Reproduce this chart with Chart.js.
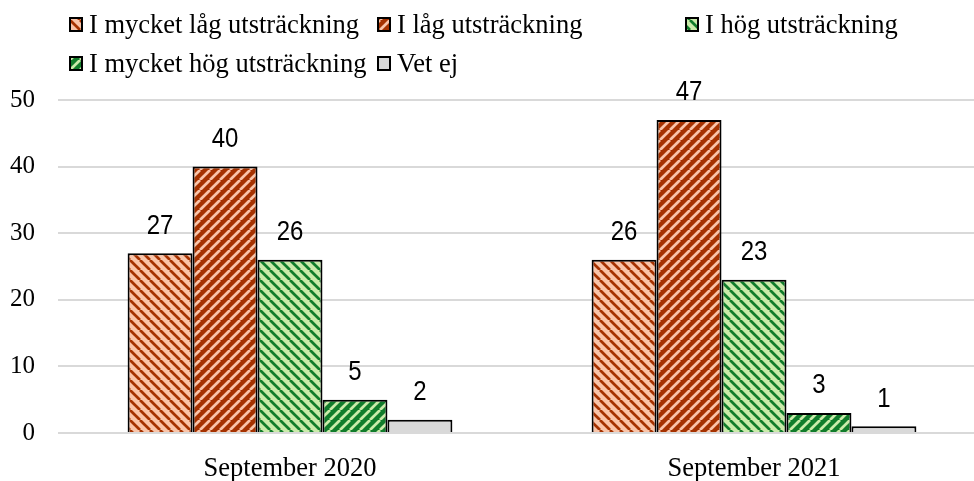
<!DOCTYPE html>
<html>
<head>
<meta charset="utf-8">
<script src="https://cdn.jsdelivr.net/npm/chart.js@4/dist/chart.umd.min.js"></script>
<style>
  html, body { margin: 0; padding: 0; background: #fff; overflow: hidden; }
  #wrap { width: 986px; height: 481px; position: relative; }
</style>
</head>
<body>
<div id="wrap"><canvas id="chart"></canvas></div>
<script>
// Data
const categories = ['September 2020', 'September 2021'];
const seriesNames = ['I mycket låg utsträckning', 'I låg utsträckning', 'I hög utsträckning', 'I mycket hög utsträckning', 'Vet ej'];
const veryLow = [27, 26];
const low = [40, 47];
const high = [26, 23];
const veryHigh = [5, 3];
const dontKnow = [2, 1];
const yTicks = [0, 10, 20, 30, 40, 50];

const serif = '"Liberation Serif", "Times New Roman", serif';
const sans = '"Liberation Sans", Arial, sans-serif';

// Hatched fills
const hatch = (bg, fg, dir) => {
  const s = 10;
  const tile = document.createElement('canvas');
  tile.width = s;
  tile.height = s;
  const c = tile.getContext('2d');
  c.fillStyle = bg;
  c.fillRect(0, 0, s, s);
  c.strokeStyle = fg;
  c.lineWidth = 2.7;
  [-s, 0, s].forEach(k => {
    c.beginPath();
    if (dir === 'down') {
      c.moveTo(k, 0);
      c.lineTo(k + s, s);
    } else {
      c.moveTo(k, s);
      c.lineTo(k + s, 0);
    }
    c.stroke();
  });
  return c.createPattern(tile, 'repeat');
};

const salmon = '#fac4a8';
const rust = '#a53200';
const mint = '#caebaa';
const forest = '#117c2b';

const fills = [
  hatch(salmon, rust, 'down'),
  hatch(rust, salmon, 'up'),
  hatch(mint, forest, 'down'),
  hatch(forest, mint, 'up'),
  '#d9d9d9'
];

const seriesData = [veryLow, low, high, veryHigh, dontKnow];

// Value labels above the bars
const valueLabels = {
  id: 'valueLabels',
  afterDatasetsDraw(chart) {
    const ctx = chart.ctx;
    chart.data.datasets.forEach((ds, i) => {
      chart.getDatasetMeta(i).data.forEach((bar, j) => {
        ctx.save();
        ctx.font = '24px ' + sans;
        ctx.fillStyle = '#000';
        ctx.textAlign = 'center';
        ctx.textBaseline = 'middle';
        ctx.translate(bar.x, bar.y - 27);
        ctx.scale(1, 1.12);
        ctx.fillText(String(ds.data[j]), 0, 0);
        ctx.restore();
      });
    });
  }
};

// Excel-like legend in a column grid
const gridLegend = {
  id: 'gridLegend',
  afterDraw(chart) {
    const ctx = chart.ctx;
    const cols = [69, 377, 685];
    const rows = [33, 72];
    ctx.save();
    ctx.font = '26.5px ' + serif;
    ctx.textBaseline = 'alphabetic';
    ctx.textAlign = 'left';
    chart.data.datasets.forEach((ds, i) => {
      const x = cols[i < 3 ? i : i - 3];
      const base = rows[i < 3 ? 0 : 1];
      ctx.fillStyle = ds.backgroundColor;
      ctx.fillRect(x, base - 16, 14, 15);
      ctx.strokeStyle = '#000';
      ctx.lineWidth = 2;
      ctx.strokeRect(x + 1, base - 15, 12, 13);
      ctx.fillStyle = '#000';
      ctx.fillText(ds.label, x + 20, base);
    });
    ctx.restore();
  }
};

new Chart(document.getElementById('chart'), {
  type: 'bar',
  data: {
    labels: categories,
    datasets: seriesNames.map((name, i) => ({
      label: name,
      data: seriesData[i],
      backgroundColor: fills[i],
      borderColor: '#000',
      borderWidth: 2,
      borderSkipped: 'start',
      categoryPercentage: 0.7,
      barPercentage: 1
    }))
  },
  options: {
    responsive: true,
    maintainAspectRatio: false,
    animation: false,
    layout: { padding: { top: 100, left: 0, right: 0, bottom: 0 } },
    plugins: {
      legend: { display: false },
      tooltip: { enabled: false }
    },
    scales: {
      x: {
        grid: { display: false },
        border: { display: false },
        ticks: { color: '#000', font: { family: serif, size: 26.5 }, padding: 12 },
        afterFit: s => { s.height = 48; }
      },
      y: {
        min: 0,
        max: 50,
        afterBuildTicks: s => { s.ticks = yTicks.map(v => ({ value: v })); },
        grid: { color: '#d9d9d9', lineWidth: 2, drawTicks: false },
        border: { display: false },
        ticks: { color: '#000', font: { family: serif, size: 25 }, padding: 23 },
        afterFit: s => { s.width = 58; }
      }
    }
  },
  plugins: [valueLabels, gridLegend]
});
</script>
</body>
</html>
